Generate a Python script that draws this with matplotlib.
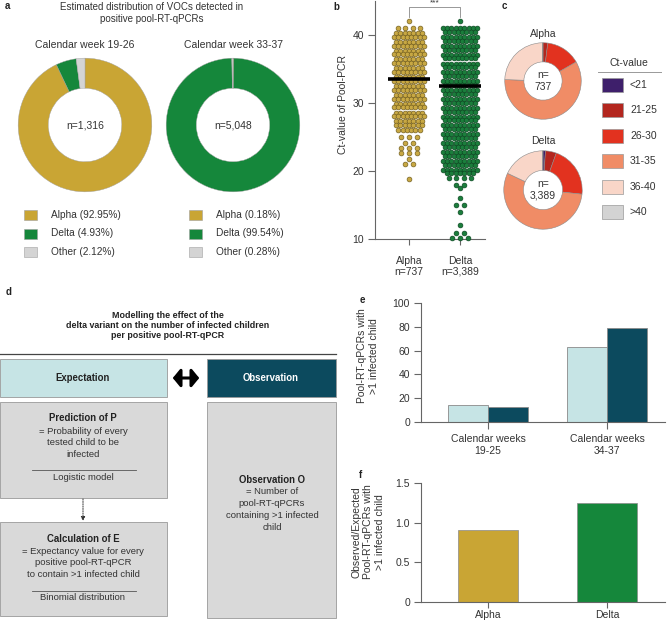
import matplotlib
matplotlib.use('Agg')
import matplotlib.pyplot as plt
from matplotlib.patches import Rectangle, FancyArrowPatch
import numpy as np

plt.rcParams['font.family'] = ['Liberation Sans', 'DejaVu Sans']

# ---------------- data ----------------
voc_labels = ['Alpha', 'Delta', 'Other']
voc_wk19_26 = [92.95, 4.93, 2.12]
voc_wk33_37 = [0.18, 99.54, 0.28]
voc_periods = ['Calendar week 19-26', 'Calendar week 33-37']
voc_n = ['n=1,316', 'n=5,048']

ct_bins = ['<21', '21-25', '26-30', '31-35', '36-40', '>40']
ct_alpha_pct = [0.0, 2.0, 14.7, 58.9, 24.2, 0.2]
ct_delta_pct = [1.0, 4.5, 21.2, 55.3, 17.7, 0.3]
ct_n = ['n=\n737', 'n=\n3,389']

b_groups = ['Alpha\nn=737', 'Delta\nn=3,389']
alpha_ct = [42.0, 41.0, 40.3, 39.75, 39.0, 38.45, 37.7, 37.15, 36.4, 35.85,
            35.1, 34.55, 33.8, 33.25, 32.5, 31.95, 31.2, 30.65, 29.9, 29.35,
            28.6, 28.05, 27.3, 26.75, 26.0, 25.0, 24.1, 23.4, 22.6, 21.8, 21.0, 18.8]
alpha_count = [1, 4, 7, 8, 7, 8, 7, 8, 7, 8,
               7, 8, 7, 8, 7, 8, 7, 8, 7, 8,
               7, 8, 7, 7, 6, 3, 2, 3, 3, 1, 2, 1]
delta_ct = [42.0, 41.0, 40.45, 39.7, 39.15, 38.4, 37.85, 37.1, 36.55, 35.8,
            35.25, 34.5, 33.95, 33.2, 32.65, 31.9, 31.35, 30.6, 30.05, 29.3,
            28.75, 28.0, 27.45, 26.7, 26.15, 25.4, 24.85, 24.1, 23.55, 22.8,
            22.25, 21.5, 20.95, 20.2, 19.65, 18.9, 17.9, 17.5, 16.0, 15.0,
            14.0, 12.0, 10.9, 10.1]
delta_count = [1, 9, 8, 9, 8, 9, 8, 9, 8, 9,
               8, 9, 8, 9, 8, 9, 8, 9, 8, 9,
               8, 9, 8, 9, 8, 9, 8, 9, 8, 9,
               8, 9, 8, 9, 7, 4, 2, 1, 1, 2,
               1, 1, 2, 3]
alpha_median = 33.6
delta_median = 32.5

e_groups = ['Calendar weeks\n19-25', 'Calendar weeks\n34-37']
e_series = ['Expectation', 'Observation']
e_expect = [14.3, 62.7]
e_observe = [12.9, 79.0]

f_variants = ['Alpha', 'Delta']
f_ratio = [0.91, 1.25]

# ---------------- style ----------------
YEL = '#C9A534'
GRN = '#15873B'
GRY = '#D4D4D4'
voc_colors = [YEL, GRN, GRY]
ct_colors = ['#3E1F6B', '#B3261E', '#E2321F', '#F08C66', '#F9D6C8', '#D3D3D3']
EXP_C = '#C6E4E5'
OBS_C = '#0C4A5E'
TXT = '#333333'
SPN = '#666666'

W, H = 667, 622
fig = plt.figure(figsize=(W / 100, H / 100), dpi=100)


def box(l, t, w, h):
    return [l / W, 1 - (t + h) / H, w / W, h / H]


ov = fig.add_axes([0, 0, 1, 1])
ov.set_xlim(0, W)
ov.set_ylim(H, 0)
ov.axis('off')

# panel labels
for lab, x, y in [('a', 5, 6), ('b', 333, 7), ('c', 502, 6), ('d', 6, 292),
                  ('e', 360, 300), ('f', 359, 475)]:
    ov.text(x, y, lab, fontsize=7, fontweight='bold', ha='left', va='center', color='#222')

# ---------------- panel a ----------------
ov.text(152, 7, 'Estimated distribution of VOCs detected in', ha='center', va='center',
        fontsize=7, color=TXT)
ov.text(152, 18.5, 'positive pool-RT-qPCRs', ha='center', va='center', fontsize=7, color=TXT)
for i, (vals, cx, lx) in enumerate(zip([voc_wk19_26, voc_wk33_37], [85, 233], [24, 189])):
    ax = fig.add_axes(box(cx - 67.5, 57.5, 135, 135))
    ax.pie(vals, colors=voc_colors, startangle=90, counterclock=False, radius=1,
           wedgeprops=dict(width=0.45, edgecolor='#A0A0A0', linewidth=0.3))
    ax.set_xlim(-1.01, 1.01)
    ax.set_ylim(-1.01, 1.01)
    ax.set_aspect('equal')
    ax.axis('off')
    ax.text(0, 0, voc_n[i], ha='center', va='center', fontsize=7.5, color=TXT)
    ov.text(cx, 45, voc_periods[i], ha='center', va='center', fontsize=7.5, color=TXT)
    for j, (lab, v) in enumerate(zip(voc_labels, vals)):
        y = 210 + j * 18.5
        ov.add_patch(Rectangle((lx, y), 13, 10, facecolor=voc_colors[j], edgecolor='#A0A0A0', lw=0.4))
        ov.text(lx + 27, y + 5, f'{lab} ({v:.2f}%)', ha='left', va='center', fontsize=7.3, color=TXT)

# ---------------- panel b ----------------
axb = fig.add_axes(box(375, 1, 110, 238))
axb.set_xlim(-0.667, 1.49)
axb.set_ylim(10, 45)
for s in ['top', 'right']:
    axb.spines[s].set_visible(False)
for s in ['left', 'bottom']:
    axb.spines[s].set_color(SPN)
    axb.spines[s].set_linewidth(0.8)
axb.set_yticks([10, 20, 30, 40])
axb.set_xticks([0, 1])
axb.set_xticklabels(b_groups, fontsize=7.5, color=TXT, linespacing=1.15)
axb.tick_params(axis='y', labelsize=7.5, labelcolor=TXT, color=SPN, length=5, width=0.8, pad=3)
axb.tick_params(axis='x', color=SPN, length=4, width=0.8, pad=8)


def swarm(ax, center, levels, counts, fc, ec):
    xs, ys = [], []
    for lv, n in zip(levels, counts):
        dx = 0.084 if n >= 5 else 0.15
        for k in range(n):
            xs.append(center + (k - (n - 1) / 2) * dx)
            ys.append(lv)
    ax.scatter(xs, ys, s=12, c=fc, edgecolors=ec, linewidths=0.45, zorder=3, clip_on=False)


swarm(axb, 0, alpha_ct, alpha_count, '#C8A843', '#6E5A1C')
swarm(axb, 1, delta_ct, delta_count, '#1B7E3C', '#0B4420')
for c, m in [(0, alpha_median), (1, delta_median)]:
    axb.plot([c - 0.41, c + 0.41], [m, m], color='black', lw=2.6, zorder=5, solid_capstyle='butt')
axb.plot([0, 0, 1, 1], [42.6, 44.1, 44.1, 42.6], color='#888', lw=0.6, clip_on=False)
axb.text(0.5, 44.2, '***', ha='center', va='bottom', fontsize=6, color=TXT, clip_on=False)
ov.text(343, 104, 'Ct-value of Pool-PCR', rotation=90, ha='center', va='center',
        fontsize=7.5, color=TXT)

# ---------------- panel c ----------------
for vals, cx, cy, r, title, n in [(ct_alpha_pct, 543, 81, 39, 'Alpha', ct_n[0]),
                                  (ct_delta_pct, 543, 190, 40, 'Delta', ct_n[1])]:
    ax = fig.add_axes(box(cx - r, cy - r, 2 * r, 2 * r))
    ax.pie(vals, colors=ct_colors, startangle=90, counterclock=False, radius=1,
           wedgeprops=dict(width=0.5, edgecolor='#8A8A8A', linewidth=0.4))
    ax.set_xlim(-1.02, 1.02)
    ax.set_ylim(-1.02, 1.02)
    ax.set_aspect('equal')
    ax.axis('off')
    ax.text(0, 0, n, ha='center', va='center', fontsize=7.5, color=TXT, linespacing=1.2)
    ov.text(cx, cy - r - 8 - (0 if title == 'Alpha' else 1), title, ha='center', va='center',
            fontsize=7.5, color=TXT)
ov.text(629, 63, 'Ct-value', ha='center', va='center', fontsize=7.5, color=TXT)
ov.plot([598, 661], [72, 72], color='#999', lw=0.7)
for j, lab in enumerate(ct_bins):
    y = 85 + j * 25.4
    ov.add_patch(Rectangle((602, y - 7), 21, 14, facecolor=ct_colors[j], edgecolor='#999', lw=0.5))
    ov.text(630, y, lab, ha='left', va='center', fontsize=7.5, color=TXT)

# ---------------- panel d ----------------
for k, line in enumerate(['Modelling the effect of the',
                          'delta variant on the number of infected children',
                          'per positive pool-RT-qPCR']):
    ov.text(168, 315 + k * 10.5, line, ha='center', va='center', fontsize=6.4,
            fontweight='bold', color='#222')
ov.plot([0, 336], [354, 354], color='#444', lw=0.9)
ov.add_patch(Rectangle((0, 359), 167, 38, facecolor=EXP_C, edgecolor='#999', lw=0.6))
ov.text(83, 378, 'Expectation', ha='center', va='center', fontsize=6.9, fontweight='bold', color='#222')
ov.add_patch(Rectangle((207, 359), 129, 38, facecolor=OBS_C, edgecolor='#999', lw=0.6))
ov.text(271, 378, 'Observation', ha='center', va='center', fontsize=6.9, fontweight='bold', color='white')
ov.add_patch(FancyArrowPatch((170, 378), (202, 378), arrowstyle='<|-|>,head_length=0.45,head_width=0.55',
                             mutation_scale=10, lw=2.2, color='black'))
# prediction box
ov.add_patch(Rectangle((0, 402), 167, 96, facecolor='#D9D9D9', edgecolor='#999', lw=0.6))
ov.text(83, 418, 'Prediction of P', ha='center', va='center', fontsize=6.9, fontweight='bold', color='#222')
for k, line in enumerate(['= Probability of every', 'tested child to be', 'infected']):
    ov.text(83, 431 + k * 11.7, line, ha='center', va='center', fontsize=6.8, color=TXT)
ov.plot([32, 136], [470, 470], color='#555', lw=0.6)
ov.text(83, 478, 'Logistic model', ha='center', va='center', fontsize=6.8, color=TXT)
ov.annotate('', xy=(83, 521), xytext=(83, 499),
            arrowprops=dict(arrowstyle='-|>', linestyle=(0, (1.2, 1.2)), lw=0.7, color='#333',
                            mutation_scale=6, shrinkA=0, shrinkB=0))
# calculation box
ov.add_patch(Rectangle((0, 522), 167, 94, facecolor='#D9D9D9', edgecolor='#999', lw=0.6))
ov.text(83, 539, 'Calculation of E', ha='center', va='center', fontsize=6.9, fontweight='bold', color='#222')
for k, line in enumerate(['= Expectancy value for every', 'positive pool-RT-qPCR',
                          'to contain >1 infected child']):
    ov.text(83, 551 + k * 11.6, line, ha='center', va='center', fontsize=6.8, color=TXT)
ov.plot([32, 136], [591, 591], color='#555', lw=0.6)
ov.text(83, 598, 'Binomial distribution', ha='center', va='center', fontsize=6.8, color=TXT)
# observation box
ov.add_patch(Rectangle((207, 402), 129, 216, facecolor='#D9D9D9', edgecolor='#999', lw=0.6))
ov.text(272, 480, 'Observation O', ha='center', va='center', fontsize=6.9, fontweight='bold', color='#222')
for k, line in enumerate(['= Number of', 'pool-RT-qPCRs', 'containing >1 infected', 'child']):
    ov.text(272, 492 + k * 11.7, line, ha='center', va='center', fontsize=6.8, color=TXT)


def style_bar_axes(ax):
    for s in ['top', 'right']:
        ax.spines[s].set_visible(False)
    for s in ['left', 'bottom']:
        ax.spines[s].set_color(SPN)
        ax.spines[s].set_linewidth(0.8)
    ax.tick_params(axis='both', labelsize=7.5, labelcolor=TXT, color=SPN, length=5, width=0.8, pad=3)


# ---------------- panel e ----------------
axe = fig.add_axes(box(421, 303, 244, 119))
style_bar_axes(axe)
axe.set_xlim(-0.563, 1.487)
axe.set_ylim(0, 100)
xg = np.arange(len(e_groups))
bw = 0.336
axe.bar(xg - bw / 2, e_expect, bw, color=EXP_C, edgecolor='#8A8A8A', lw=0.6)
axe.bar(xg + bw / 2, e_observe, bw, color=OBS_C, edgecolor='#8A8A8A', lw=0.6)
axe.set_yticks([0, 20, 40, 60, 80, 100])
axe.set_xticks(xg)
axe.set_xticklabels(e_groups, linespacing=1.2)
axe.tick_params(axis='x', pad=4)
for j, (lab, col) in enumerate(zip(e_series, [EXP_C, OBS_C])):
    y = 313 + j * 25
    ov.add_patch(Rectangle((439, y), 20, 14, facecolor=col, edgecolor='#8A8A8A', lw=0.6))
    ov.text(469, y + 7, lab, ha='left', va='center', fontsize=7.5, color=TXT)
ov.text(368, 356, 'Pool-RT-qPCRs with\n>1 infected child', rotation=90, ha='center', va='center',
        fontsize=7.5, color=TXT, linespacing=1.2)

# ---------------- panel f ----------------
axf = fig.add_axes(box(421, 483, 244, 119))
style_bar_axes(axf)
axf.set_xlim(-0.563, 1.487)
axf.set_ylim(0, 1.5)
xf = np.arange(len(f_variants))
axf.bar(xf, f_ratio, 0.504, color=[YEL, GRN], edgecolor='#8A8A8A', lw=0.5)
axf.set_yticks([0, 0.5, 1.0, 1.5])
axf.set_yticklabels(['0', '0.5', '1.0', '1.5'])
axf.set_xticks(xf)
axf.set_xticklabels(f_variants)
axf.tick_params(axis='x', pad=1.5, length=4)
ov.text(368, 532, 'Observed/Expected\nPool-RT-qPCRs with\n>1 infected child', rotation=90,
        ha='center', va='center', fontsize=7.5, color=TXT, linespacing=1.2)

fig.savefig('out.png', dpi=100)
